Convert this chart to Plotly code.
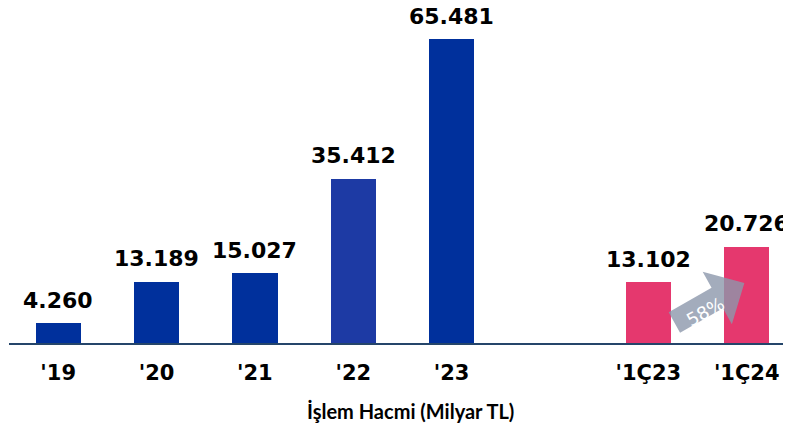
import plotly.graph_objects as go

categories = ["'19", "'20", "'21", "'22", "'23", "'1Ç23", "'1Ç24"]
positions = [0, 1, 2, 3, 4, 6, 7]
values = [4.260, 13.189, 15.027, 35.412, 65.481, 13.102, 20.726]
labels = ["4.260", "13.189", "15.027", "35.412", "65.481", "13.102", "20.726"]
colors = ["#00309C", "#00309C", "#00309C", "#1D3AA4", "#00309C", "#E5386E", "#E5386E"]
growth_label = "58%"
title = "İşlem Hacmi (Milyar TL)"

fig = go.Figure()
fig.add_trace(go.Bar(x=positions, y=values, marker=dict(color=colors, line=dict(width=0)),
                     width=0.46, hoverinfo="skip"))

for x, v, t in zip(positions, values, labels):
    fig.add_annotation(x=x, y=v, text=t, showarrow=False, yanchor="middle", yshift=23,
                       font=dict(family="DejaVu Sans", size=22, color="#000000", weight="bold"))

# growth arrow between the two quarterly bars
ax = (positions[5] + positions[6]) / 2 + 0.12
ay = (values[5] + values[6]) / 2 - 8.3
pts = [(-40.7, -9.2), (2.2, 15.3), (-6.7, 31.2), (35, 20), (22.5, -21.3), (13.6, -5.3), (-29.3, -29.8)]
path = "M " + " L ".join(f"{px},{py}" for px, py in pts) + " Z"
fig.add_shape(type="path", xref="x", yref="y", xsizemode="pixel", ysizemode="pixel",
              xanchor=ax, yanchor=ay, path=path, fillcolor="#8C97AB", opacity=0.8,
              line=dict(width=0), layer="above")
fig.add_annotation(x=ax, y=ay, text=growth_label, showarrow=False, textangle=-29,
                   xshift=-4, yshift=-8,
                   font=dict(family="DejaVu Sans", size=18, color="#FFFFFF"))

fig.add_annotation(xref="paper", yref="paper", x=0.513, y=-0.203, text=title, showarrow=False,
                   yanchor="middle", font=dict(family="Lato", size=20, color="#000000", weight="bold"))

fig.update_layout(
    width=783, height=420,
    margin=dict(l=1, r=0, t=0, b=85),
    paper_bgcolor="white", plot_bgcolor="white",
    showlegend=False,
    bargap=0,
    xaxis=dict(range=[-0.5, 7.45], tickvals=positions, ticktext=categories,
               showgrid=False, zeroline=False, showline=True, linecolor="#25456A", linewidth=2,
               ticks="", ticklabelstandoff=10,
               tickfont=dict(family="DejaVu Sans", size=21, color="#000000", weight="bold")),
    yaxis=dict(range=[0, 72.23], visible=False, showgrid=False, zeroline=False),
)

fig.write_html("out.html")
